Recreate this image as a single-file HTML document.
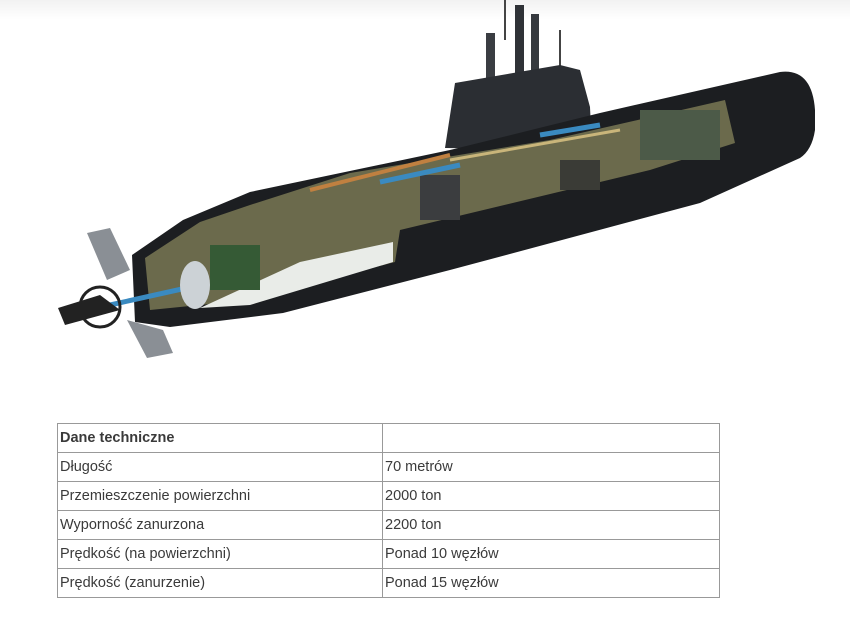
<!DOCTYPE html>
<html><head><meta charset="utf-8"><style>
body{margin:0;background:#fff;width:850px;height:619px;overflow:hidden;position:relative;font-family:"Liberation Sans",sans-serif}
svg{position:absolute;left:0;top:0}
table{position:absolute;left:57px;top:423px;width:663px;border-collapse:collapse;font-size:14.5px;color:#3a3a3a}
td{border:1px solid #999;height:28px;padding:0 2px;vertical-align:middle}
td:first-child{width:320px}
</style></head><body>
<svg width="850" height="400" viewBox="0 0 850 400">
<defs><linearGradient id="bg" x1="0" y1="0" x2="0" y2="1"><stop offset="0" stop-color="#f2f2f2"/><stop offset="1" stop-color="#fff"/></linearGradient></defs>
<rect width="850" height="20" fill="url(#bg)"/>
<rect x="486" y="33" width="9" height="115" fill="#3a3d42"/>
<rect x="515" y="5" width="9" height="143" fill="#2f3237"/>
<rect x="531" y="14" width="8" height="134" fill="#363a3f"/>
<rect x="504" y="0" width="2" height="40" fill="#444"/>
<rect x="559" y="30" width="2" height="60" fill="#444"/>
<polygon points="445,148 455,83 560,65 580,70 590,107 592,150" fill="#2b2e33"/>
<path d="M132,255 L183,220 L250,192 L450,150 L600,113 L780,72 Q812,68 815,110 L815,130 Q812,150 800,158 L700,203 L450,270 L283,313 L170,327 L135,322 Z" fill="#1c1e21"/>
<polygon points="145,258 200,222 250,205 350,173 550,140 725,100 735,143 650,170 400,230 395,262 250,300 150,310" fill="#6b6a4c"/>
<polygon points="300,262 393,242 393,262 250,305 200,308" fill="#e9ece8"/>
<rect x="210" y="245" width="50" height="45" fill="#355a35"/>
<rect x="420" y="175" width="40" height="45" fill="#3b3d3f"/>
<rect x="560" y="160" width="40" height="30" fill="#3a3b36"/>
<rect x="640" y="110" width="80" height="50" fill="#4c5a48"/>
<line x1="310" y1="190" x2="450" y2="155" stroke="#c08040" stroke-width="4"/>
<line x1="450" y1="160" x2="620" y2="130" stroke="#c9b57a" stroke-width="3"/>
<line x1="380" y1="182" x2="460" y2="165" stroke="#3a8ac0" stroke-width="5"/>
<line x1="540" y1="135" x2="600" y2="125" stroke="#3a8ac0" stroke-width="5"/>
<line x1="110" y1="305" x2="200" y2="285" stroke="#3a8ac0" stroke-width="5"/>
<ellipse cx="195" cy="285" rx="15" ry="24" fill="#ccd2d6"/>
<polygon points="87,233 110,228 130,270 107,280" fill="#8a8f95"/>
<polygon points="127,320 163,330 173,353 147,358" fill="#8a8f95"/>
<circle cx="100" cy="307" r="20" fill="none" stroke="#222" stroke-width="3"/>
<polygon points="58,308 100,295 120,310 65,325" fill="#222"/>
</svg>
<table>
<tr><td><b>Dane techniczne</b></td><td></td></tr>
<tr><td>Długość</td><td>70 metrów</td></tr>
<tr><td>Przemieszczenie powierzchni</td><td>2000 ton</td></tr>
<tr><td>Wyporność zanurzona</td><td>2200 ton</td></tr>
<tr><td>Prędkość (na powierzchni)</td><td>Ponad 10 węzłów</td></tr>
<tr><td>Prędkość (zanurzenie)</td><td>Ponad 15 węzłów</td></tr>
</table>
</body></html>
